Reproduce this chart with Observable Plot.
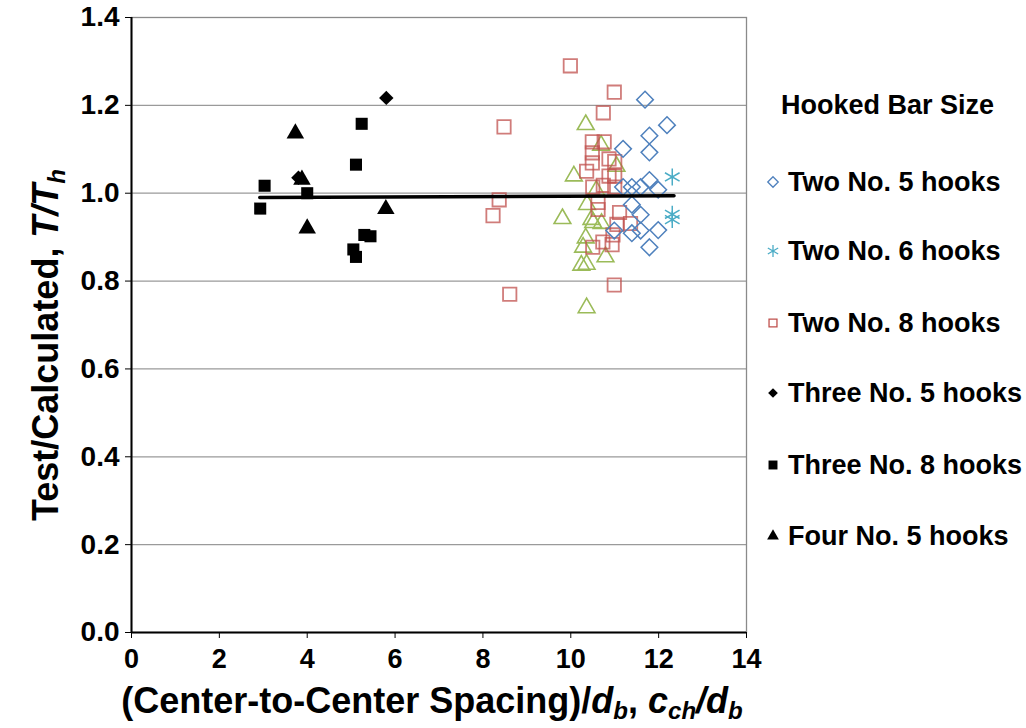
<!DOCTYPE html>
<html>
<head>
<meta charset="utf-8">
<script src="https://cdn.jsdelivr.net/npm/d3@7"></script>
<script src="https://cdn.jsdelivr.net/npm/@observablehq/plot@0.6"></script>
<style>
  html, body { margin: 0; padding: 0; background: #fff; }
  #wrap { position: relative; width: 1026px; height: 728px; overflow: hidden; font-family: "Liberation Sans", Arial, sans-serif; }
  #chart { position: absolute; left: 0; top: 0; }
  .leg, .legtitle { position: absolute; font-weight: bold; font-size: 27px; color: #000; white-space: nowrap; line-height: 1; }
  .mk { position: absolute; }
</style>
</head>
<body>
<div id="wrap"><div id="chart"></div></div>
<script>
// ---- Data ----
const twoNo5X = [11.69, 12.19, 11.79, 11.19, 11.79, 11.79, 11.99, 11.19, 11.39, 11.59, 11.39, 11.59, 10.99, 11.39, 11.59, 11.99, 11.79];
const twoNo5Y = [1.213, 1.155, 1.131, 1.101, 1.093, 1.030, 1.008, 1.014, 1.014, 1.014, 0.974, 0.951, 0.915, 0.909, 0.915, 0.916, 0.877];

const twoNo6X = [12.31, 12.31, 12.31];
const twoNo6Y = [1.037, 0.952, 0.940];

const twoNo8X = [9.99, 10.99, 10.74, 8.48, 10.49, 10.76, 10.49, 10.49, 10.87, 11.0, 10.36, 10.87, 11.0, 10.5, 10.74, 11.0, 8.37, 10.62, 10.62, 8.23, 11.11, 11.05, 11.36, 10.96, 10.73, 10.94, 10.5, 10.99, 8.61];
const twoNo8Y = [1.290, 1.230, 1.183, 1.151, 1.117, 1.117, 1.092, 1.069, 1.078, 1.072, 1.050, 1.039, 1.039, 1.014, 1.018, 1.014, 0.985, 0.979, 0.963, 0.949, 0.956, 0.929, 0.931, 0.905, 0.889, 0.883, 0.877, 0.791, 0.770];

const twoNo11X = [10.34, 10.69, 11.04, 10.07, 10.58, 10.37, 9.81, 10.47, 10.51, 10.70, 10.34, 10.28, 10.79, 10.24, 10.36, 10.36];
const twoNo11Y = [1.156, 1.109, 1.061, 1.039, 1.006, 0.974, 0.942, 0.940, 0.933, 0.931, 0.898, 0.877, 0.855, 0.836, 0.838, 0.739];

const threeNo5X = [5.80, 3.80];
const threeNo5Y = [1.217, 1.035];

const threeNo8X = [3.03, 2.93, 4.00, 5.24, 5.11, 5.30, 5.44, 5.05, 5.11];
const threeNo8Y = [1.017, 0.965, 1.000, 1.158, 1.065, 0.905, 0.902, 0.872, 0.855];

const fourNo5X = [3.73, 3.88, 4.00, 5.79];
const fourNo5Y = [1.136, 1.031, 0.920, 0.964];

const trendX = [2.92, 12.35];
const trendY = [0.990, 0.994];

const xTicks = [0, 2, 4, 6, 8, 10, 12, 14];
const yTicks = [0, 0.2, 0.4, 0.6, 0.8, 1.0, 1.2, 1.4];

const legendTitle = "Hooked Bar Size";
const legendLabels = ["Two No. 5 hooks", "Two No. 6 hooks", "Two No. 8 hooks", "Three No. 5 hooks", "Three No. 8 hooks", "Four No. 5 hooks"];

// ---- Build tables ----
const zip = (xs, ys) => xs.map((x, i) => ({x, y: ys[i]}));
const d5 = zip(twoNo5X, twoNo5Y);
const d6 = zip(twoNo6X, twoNo6Y);
const d8 = zip(twoNo8X, twoNo8Y);
const d11 = zip(twoNo11X, twoNo11Y);
const t5 = zip(threeNo5X, threeNo5Y);
const t8 = zip(threeNo8X, threeNo8Y);
const f5 = zip(fourNo5X, fourNo5Y);
const trend = zip(trendX, trendY);

const BLUE = "#4F81BD", AQUA = "#4BACC6", RED = "#C0504D", GREEN = "#9BBB59";

const chart = Plot.plot({
  width: 780,
  height: 728,
  marginLeft: 131,
  marginRight: 34,
  marginTop: 17,
  marginBottom: 96,
  style: {fontFamily: "'Liberation Sans', Arial, sans-serif", fontWeight: "bold", fontSize: "28px", color: "#000", background: "transparent", overflow: "visible"},
  x: {domain: [0, 14], label: null},
  y: {domain: [0, 1.4], label: null},
  marks: [
    Plot.gridY(yTicks.filter(d => d > 0 && d < 1.4), {stroke: "#9a9a9a", strokeOpacity: 1, strokeWidth: 1.3}),
    Plot.frame({stroke: "#8a8a8a", strokeWidth: 1.3}),
    Plot.ruleX([0], {stroke: "#000", strokeWidth: 2}),
    Plot.ruleY([0], {stroke: "#000", strokeWidth: 2}),
    Plot.axisX({ticks: xTicks, tickSize: 6, tickPadding: 10, fontSize: 27, label: null}),
    Plot.axisY({ticks: yTicks, tickSize: 6, tickPadding: 6, tickFormat: d3.format(".1f"), fontSize: 28, label: null}),
    Plot.dot(d11, {x: "x", y: "y", symbol: "triangle2", r: 8, stroke: GREEN, strokeWidth: 1.6, fill: "none"}),
    Plot.dot(d8, {x: "x", y: "y", symbol: "square2", r: 8.5, stroke: RED, strokeOpacity: 0.75, strokeWidth: 1.8, fill: "none"}),
    Plot.dot(d5, {x: "x", y: "y", symbol: "diamond2", r: 7.5, stroke: BLUE, strokeWidth: 1.5, fill: "none"}),
    Plot.dot(d6, {x: "x", y: "y", symbol: "asterisk", r: 8, stroke: AQUA, strokeWidth: 1.5}),
    Plot.line(trend, {x: "x", y: "y", stroke: "#000", strokeWidth: 3.5}),
    Plot.dot(t8, {x: "x", y: "y", symbol: "square", r: 6.8, fill: "#000"}),
    Plot.dot(t5, {x: "x", y: "y", symbol: "diamond2", r: 6.5, fill: "#000"}),
    Plot.dot(f5, {x: "x", y: "y", symbol: "triangle", r: 6.5, fill: "#000"})
  ]
});
document.getElementById("chart").appendChild(chart);

// Axis titles as real SVG text with subscripts
const svg = d3.select(chart);
const xt = svg.append("text")
  .attr("x", 432).attr("y", 713)
  .attr("text-anchor", "middle")
  .style("font-size", "36px").style("font-weight", "bold").attr("fill", "#000");
xt.append("tspan").text("(Center-to-Center Spacing)/");
xt.append("tspan").attr("font-style", "italic").text("d");
xt.append("tspan").attr("font-style", "italic").attr("font-size", "24px").attr("dy", 6).text("b");
xt.append("tspan").attr("dy", -6).text(", ");
xt.append("tspan").attr("font-style", "italic").text("c");
xt.append("tspan").attr("font-style", "italic").attr("font-size", "24px").attr("dy", 6).text("ch");
xt.append("tspan").attr("font-style", "italic").attr("dy", -6).text("/d");
xt.append("tspan").attr("font-style", "italic").attr("font-size", "24px").attr("dy", 6).text("b");

const yt = svg.append("text")
  .attr("transform", "translate(58,345) rotate(-90)")
  .attr("text-anchor", "middle")
  .style("font-size", "36px").style("font-weight", "bold").attr("fill", "#000");
yt.append("tspan").text("Test/Calculated, ");
yt.append("tspan").attr("font-style", "italic").text("T/T");
yt.append("tspan").attr("font-style", "italic").attr("font-size", "24px").attr("dy", 7).text("h");

// ---- Legend (HTML beside the plot) ----
const wrap = document.getElementById("wrap");
const title = document.createElement("div");
title.className = "legtitle";
title.textContent = legendTitle;
title.style.left = "781px"; title.style.top = "92px";
wrap.appendChild(title);

const legSpec = [
  {sym: d3.symbolDiamond2, fill: "none", stroke: BLUE, size: 70},
  {sym: d3.symbolAsterisk, fill: "none", stroke: AQUA, size: 100},
  {sym: d3.symbolSquare2, fill: "none", stroke: RED, size: 80},
  {sym: d3.symbolDiamond2, fill: "#000", stroke: "none", size: 60},
  {sym: d3.symbolSquare, fill: "#000", stroke: "none", size: 80},
  {sym: d3.symbolTriangle, fill: "#000", stroke: "none", size: 60}
];
const legY = [182, 251, 323, 393, 465, 536];
legendLabels.forEach((lab, i) => {
  const s = legSpec[i];
  const m = d3.create("svg").attr("width", 20).attr("height", 20)
    .attr("class", "mk")
    .style("left", "763px").style("top", (legY[i] - 10) + "px");
  m.append("path").attr("transform", "translate(10,10)")
    .attr("d", d3.symbol(s.sym, s.size)())
    .attr("fill", s.fill).attr("stroke", s.stroke).attr("stroke-width", 1.3);
  wrap.appendChild(m.node());
  const t = document.createElement("div");
  t.className = "leg";
  t.textContent = lab;
  t.style.left = "788px"; t.style.top = (legY[i] - 13) + "px";
  wrap.appendChild(t);
});
</script>
</body>
</html>
